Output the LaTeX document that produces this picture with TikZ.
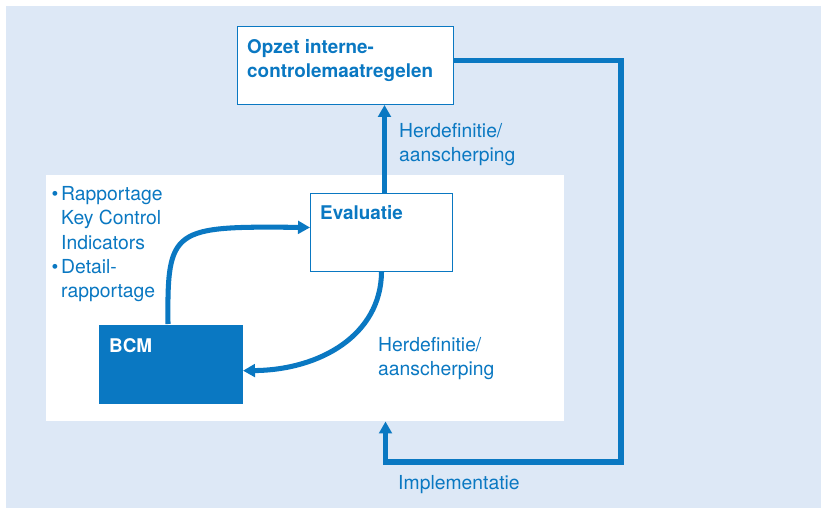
\documentclass[tikz,border=0pt]{standalone}
\usepackage{fontspec}
\setmainfont{TeX Gyre Heros}
\usetikzlibrary{arrows.meta, positioning}
\definecolor{bcmblue}{HTML}{0A78C2}
\definecolor{panelblue}{HTML}{DDE8F6}
\tikzstyle{panel} = [
  rectangle, anchor=north west, inner sep=0pt, fill=white,
  minimum width=15.54cm, minimum height=7.38cm
]
\tikzstyle{box} = [
  rectangle, anchor=north west, inner sep=0pt, draw=bcmblue,
  line width=0.85pt, fill=white
]
\tikzstyle{boxtitle} = [
  anchor=north west, inner sep=0pt, align=left, text=bcmblue,
  font=\bfseries\fontsize{16.1}{20.4}\selectfont
]
\tikzstyle{note} = [
  anchor=north west, inner sep=0pt, align=left, text=bcmblue,
  font=\fontsize{16.5}{20.8}\selectfont
]
\tikzset{
  arrow/.style={
    draw=bcmblue, line width=4.3pt,
    -{Triangle[length=0.36cm,width=0.38cm]}
  }
}

\begin{document}
\begin{tikzpicture}[x=0.03cm, y=-0.03cm]

% ------------------------------------------------
% ACHTERGROND
% ------------------------------------------------

\useasboundingbox (0,0) rectangle (821,508);
\fill[panelblue] (6,6) rectangle (821,508);

\node[panel] (inner) at (46,175) {};

% ------------------------------------------------
% BLOKKEN
% ------------------------------------------------

\node[box, minimum width=6.48cm, minimum height=2.34cm] (opzet) at (237,26) {};
\node[boxtitle] (opzettxt) at (247,39) {%
  Opzet interne-\\
  controlemaatregelen
};

\node[box, minimum width=4.26cm, minimum height=2.34cm] (eval) at (310,193) {};
\node[boxtitle] (evaltxt) at (320,205) {Evaluatie};

\node[box, draw=none, fill=bcmblue, minimum width=4.29cm, minimum height=2.37cm] (bcm) at (99,324) {};
\node[boxtitle, text=white] (bcmtxt) at (109,338) {BCM};

% ------------------------------------------------
% TEKSTEN
% ------------------------------------------------

\node[note] (rapport) at (61,186) {%
  \llap{\textbullet\hspace{2.5pt}}Rapportage\\
  Key Control\\
  Indicators\\
  \llap{\textbullet\hspace{2.5pt}}Detail-\\
  rapportage
};

\node[note] (herdef1) at (399,123) {%
  Herdefinitie/\\
  aanscherping
};

\node[note] (herdef2) at (378,337) {%
  Herdefinitie/\\
  aanscherping
};

\node[note] (implem) at (398,475) {Implementatie};

% ------------------------------------------------
% PIJLEN
% ------------------------------------------------

\draw[arrow] ([xshift=0.09cm]eval.north) -- ([xshift=0.09cm]eval.north |- opzet.south);

\draw[arrow] ([xshift=-0.09cm]bcm.north) .. controls (167,228) and (172,226) .. ([yshift=0.15cm]eval.west);

\draw[arrow] (eval.south) .. controls (381,335) and (320,370) .. ([yshift=-0.2cm]bcm.east);

\coordinate (loopcorner) at (621,462);
\draw[arrow] ([yshift=0.15cm]opzet.east) -| (loopcorner) -| ([xshift=0.12cm]eval.south |- inner.south);

\end{tikzpicture}
\end{document}
